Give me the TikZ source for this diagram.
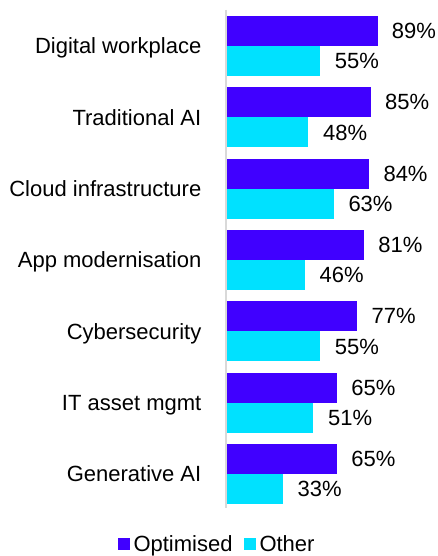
\documentclass[tikz,border=0pt]{standalone}
\usepackage{fontspec}
\setmainfont{Liberation Sans}
\definecolor{optc}{RGB}{64,0,255}
\definecolor{othc}{RGB}{0,225,255}
\definecolor{axisc}{RGB}{217,217,217}
\begin{document}
\begin{tikzpicture}[x=1pt,y=-1pt,
  bar/.style={draw=none,inner sep=0pt,minimum height=30pt,anchor=north west},
  optbar/.style={bar,fill=optc},
  othbar/.style={bar,fill=othc},
  lab/.style={font=\fontsize{22}{26}\selectfont,inner sep=0pt},
  catlab/.style={lab,anchor=base east},
  vallab/.style={lab,anchor=base west},
  legsq/.style={fill=#1,draw=none,inner sep=0pt,minimum size=12pt,anchor=south west}]
\useasboundingbox (0,0) rectangle (437,556);
\coordinate (axtop) at (226,10);
\coordinate (axbot) at (226,508);
\draw[axisc,line width=1.5pt] (axtop) -- (axbot);
\foreach \i/\name/\o/\t in {0/Digital workplace/89/55,1/Traditional AI/85/48,2/Cloud infrastructure/84/63,3/App modernisation/81/46,4/Cybersecurity/77/55,5/IT asset mgmt/65/51,6/Generative AI/65/33}{
  \pgfmathsetmacro{\top}{16+71.3*\i}
  \pgfmathsetmacro{\wo}{1.692*\o}
  \pgfmathsetmacro{\wt}{1.692*\t}
  \node[optbar,minimum width=\wo pt] (o\i) at (226.8,\top) {};
  \node[othbar,minimum width=\wt pt] (t\i) at (226.8,\top+30) {};
  \node[catlab] (c\i) at (201.5,\top+37.8) {\name};
  \node[vallab] (vo\i) at ([xshift=14pt,yshift=-7.5pt]o\i.east) {\o\%};
  \node[vallab] (vt\i) at ([xshift=14.5pt,yshift=-7.8pt]t\i.east) {\t\%};
}
\node[legsq=optc] (lo) at (117.3,549.8) {};
\node[lab,anchor=base west] (lot) at (133.3,551) {Optimised};
\node[legsq=othc] (lt) at (243.3,549.8) {};
\node[lab,anchor=base west] (ltt) at (259.3,551) {Other};
\end{tikzpicture}
\end{document}
